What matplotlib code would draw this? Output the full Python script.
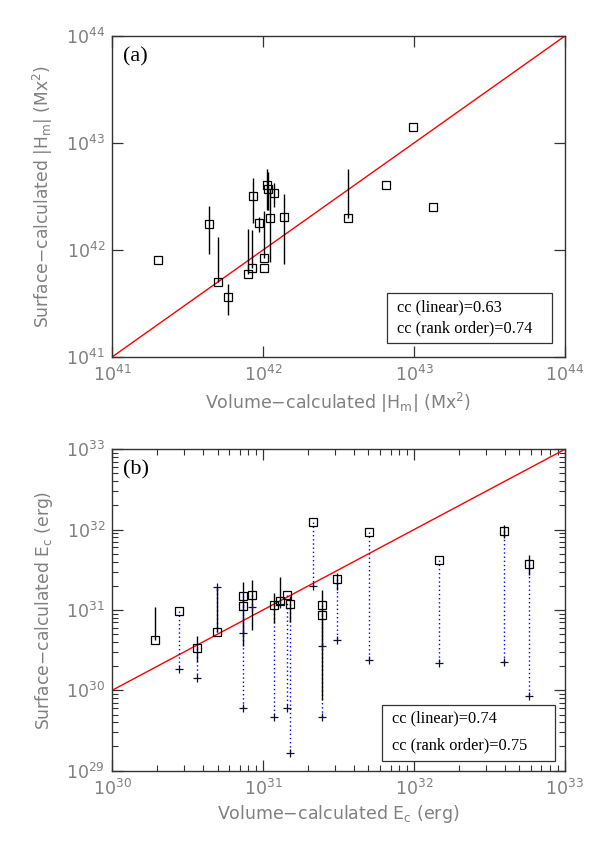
import numpy as np
import matplotlib
matplotlib.use("Agg")
import matplotlib.pyplot as plt
from matplotlib.patches import Rectangle

# ---------------- data: panel (a) relative magnetic helicity ----------------
ha_vol = [2.01e41, 4.37e41, 5.01e41, 5.89e41, 8.00e41, 8.50e41, 8.63e41, 9.37e41,
          1.02e42, 1.02e42, 1.06e42, 1.08e42, 1.12e42, 1.19e42, 1.37e42,
          3.64e42, 6.50e42, 9.80e42, 1.34e43]
ha_surf = [8.07e41, 1.75e42, 4.99e41, 3.66e41, 5.97e41, 6.84e41, 3.22e42, 1.77e42,
           6.79e41, 8.41e41, 4.03e42, 3.69e42, 1.98e42, 3.44e42, 2.05e42,
           2.00e42, 4.03e42, 1.40e43, 2.54e42]
ha_err_lo = [np.nan, 9.2e41, 4.99e41, 2.48e41, 5.97e41, 6.84e41, 1.77e42, 1.48e42,
             np.nan, 8.41e41, 2.37e42, 2.37e42, 7.78e41, 2.54e42, 7.35e41,
             2.00e42, np.nan, np.nan, np.nan]
ha_err_hi = [np.nan, 2.58e42, 1.33e42, 4.81e41, 1.58e42, 1.54e42, 4.68e42, 2.05e42,
             np.nan, 2.33e42, 5.68e42, 5.40e42, 3.64e42, 4.26e42, 3.33e42,
             5.68e42, np.nan, np.nan, np.nan]
ha_ticks = [1e41, 1e42, 1e43, 1e44]
ha_ticklabels = [r'$\mathregular{10^{41}}$', r'$\mathregular{10^{42}}$',
                 r'$\mathregular{10^{43}}$', r'$\mathregular{10^{44}}$']
cc_a = ["cc (linear)=0.63", "cc (rank order)=0.74"]

# ---------------- data: panel (b) current-carrying energy ----------------
ec_vol = [1.94e30, 2.79e30, 3.64e30, 4.98e30, 7.43e30, 7.43e30, 8.45e30, 1.18e31,
          1.30e31, 1.44e31, 1.52e31, 2.14e31, 2.45e31, 2.45e31, 3.10e31,
          5.06e31, 1.47e32, 3.96e32, 5.78e32]
ec_surf = [4.27e30, 9.79e30, 3.40e30, 5.37e30, 1.49e31, 1.13e31, 1.54e31, 1.16e31,
           1.29e31, 1.54e31, 1.19e31, 1.24e32, 1.16e31, 8.59e30, 2.41e31,
           9.44e31, 4.19e31, 9.70e31, 3.74e31]
ec_alt = [np.nan, 1.86e30, 1.43e30, 1.95e31, 5.13e30, 5.98e29, 1.10e31, 4.62e29,
          1.20e31, 6.08e29, 1.65e29, 2.01e31, 3.60e30, 4.62e29, 4.24e30,
          2.39e30, 2.21e30, 2.28e30, 8.5e29]
ec_err_lo = [4.27e30, np.nan, 2.28e30, 5.37e30, 3.60e30, np.nan, 5.64e30, 6.92e30,
             1.29e31, np.nan, 7.08e30, np.nan, 7.6e29, np.nan, 1.77e31,
             np.nan, np.nan, 7.80e31, 2.73e31]
ec_err_hi = [1.08e31, np.nan, 4.73e30, 1.95e31, 2.25e31, np.nan, 2.36e31, 1.62e31,
             2.59e31, np.nan, 1.50e31, np.nan, 1.78e31, np.nan, 2.86e31,
             np.nan, np.nan, 1.14e32, 4.84e31]
ec_ticks_x = [1e30, 1e31, 1e32, 1e33]
ec_ticks_y = [1e29, 1e30, 1e31, 1e32, 1e33]
ec_xticklabels = [r'$\mathregular{10^{30}}$', r'$\mathregular{10^{31}}$',
                  r'$\mathregular{10^{32}}$', r'$\mathregular{10^{33}}$']
ec_yticklabels = [r'$\mathregular{10^{29}}$', r'$\mathregular{10^{30}}$',
                  r'$\mathregular{10^{31}}$', r'$\mathregular{10^{32}}$',
                  r'$\mathregular{10^{33}}$']
cc_b = ["cc (linear)=0.74", "cc (rank order)=0.75"]

# ---------------- figure ----------------
plt.rcParams['font.family'] = ['DejaVu Sans']
plt.rcParams['mathtext.fontset'] = 'dejavusans'
GRAY = '#808080'
AXC = '#333333'

fig = plt.figure(figsize=(5.99, 8.42), dpi=100)
ax1 = fig.add_axes([0.187, 0.576, 0.756, 0.3812])
ax2 = fig.add_axes([0.187, 0.0847, 0.756, 0.3817])


def style(ax, minor):
    for s in ax.spines.values():
        s.set_color(AXC)
        s.set_linewidth(1.0)
    ax.tick_params(which='major', direction='in', length=8, width=0.9,
                   top=True, right=True, colors=AXC, labelcolor=GRAY,
                   labelsize=12.5)
    ax.tick_params(axis='x', which='major', pad=6)
    ax.tick_params(axis='y', which='major', pad=5)
    if minor:
        ax.tick_params(which='minor', direction='in', length=4, width=0.8,
                       top=True, right=True, colors=AXC)
    else:
        ax.minorticks_off()
        ax.tick_params(which='minor', length=0)


def ccbox(ax, lines, x0, x1, y0, y1, tx, ty1, ty2):
    ax.add_patch(Rectangle((x0, y0), x1 - x0, y1 - y0, transform=ax.transAxes,
                           fc='white', ec=AXC, lw=0.9, zorder=6))
    for t, ty in zip(lines, (ty1, ty2)):
        ax.text(tx, ty, t, transform=ax.transAxes, ha='left', va='center',
                family='Liberation Serif', fontsize=11.8, zorder=7)


# ---- panel (a)
ax1.set_xscale('log')
ax1.set_yscale('log')
ax1.set_xlim(1e41, 1e44)
ax1.set_ylim(1e41, 1e44)
ax1.plot([1e41, 1e44], [1e41, 1e44], color='red', lw=1.0, zorder=2)
ax1.vlines(ha_vol, ha_err_lo, ha_err_hi, colors='black', lw=1.0, zorder=3)
ax1.plot(ha_vol, ha_surf, ls='none', marker='s', ms=5.5, mfc='none',
         mec='black', mew=0.9, zorder=4)
ax1.set_xticks(ha_ticks, ha_ticklabels)
ax1.set_yticks(ha_ticks, ha_ticklabels)
style(ax1, minor=False)
ax1.minorticks_off()
ax1.set_xlabel('Volume−calculated |H$_\\mathregular{m}$| (Mx$^\\mathregular{2}$)',
               color=GRAY, fontsize=12.5)
ax1.set_ylabel('Surface−calculated |H$_\\mathregular{m}$| (Mx$^\\mathregular{2}$)',
               color=GRAY, fontsize=12.3)
ax1.xaxis.set_label_coords(0.5, -0.105)
ax1.yaxis.set_label_coords(-0.125, 0.5)
ax1.text(0.025, 0.965, '(a)', transform=ax1.transAxes, ha='left', va='top',
         family='Liberation Serif', fontsize=16)
ccbox(ax1, cc_a, 0.607, 0.971, 0.044, 0.199, 0.629, 0.154, 0.088)

# ---- panel (b)
ax2.set_xscale('log')
ax2.set_yscale('log')
ax2.set_xlim(1e30, 1e33)
ax2.set_ylim(1e29, 1e33)
ax2.plot([1e30, 1e33], [1e30, 1e33], color='red', lw=1.0, zorder=2)
ax2.vlines(ec_vol, ec_surf, ec_alt, colors='blue', lw=1.0,
           linestyles=(0, (1, 2)), zorder=3)
ax2.vlines(ec_vol, ec_err_lo, ec_err_hi, colors='black', lw=1.0, zorder=3)
ax2.plot(ec_vol, ec_alt, ls='none', marker='+', ms=6, mec='#101030', mew=0.9,
         zorder=4)
ax2.plot(ec_vol, ec_surf, ls='none', marker='s', ms=5.5, mfc='none',
         mec='black', mew=0.9, zorder=5)
ax2.set_xticks(ec_ticks_x, ec_xticklabels)
ax2.set_yticks(ec_ticks_y, ec_yticklabels)
style(ax2, minor=True)
ax2.set_xlabel('Volume−calculated E$_\\mathregular{c}$ (erg)', color=GRAY,
               fontsize=12.5)
ax2.set_ylabel('Surface−calculated E$_\\mathregular{c}$ (erg)', color=GRAY,
               fontsize=12.3)
ax2.xaxis.set_label_coords(0.5, -0.1)
ax2.yaxis.set_label_coords(-0.125, 0.5)
ax2.text(0.025, 0.965, '(b)', transform=ax2.transAxes, ha='left', va='top',
         family='Liberation Serif', fontsize=16)
ccbox(ax2, cc_b, 0.596, 0.978, 0.03, 0.205, 0.618, 0.162, 0.078)

fig.savefig('out.png', dpi=100)
